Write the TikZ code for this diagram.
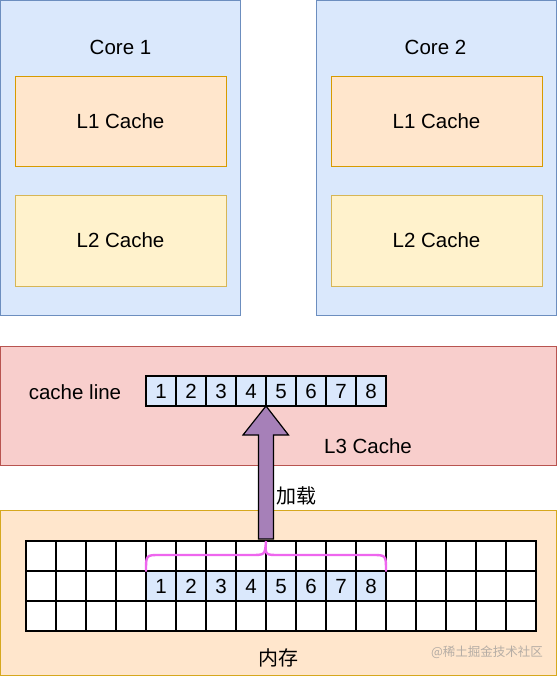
\documentclass[tikz,border=0pt]{standalone}
\usepackage{fontspec}
\usetikzlibrary{calc}
\setmainfont{Liberation Sans}
\newfontfamily\cjk{Noto Sans CJK SC}
\definecolor{coreFill}{HTML}{DAE8FC}
\definecolor{coreLine}{HTML}{6C8EBF}
\definecolor{lOneFill}{HTML}{FFE6CC}
\definecolor{lOneLine}{HTML}{D79B00}
\definecolor{lTwoFill}{HTML}{FFF2CC}
\definecolor{lTwoLine}{HTML}{D6B656}
\definecolor{lThreeFill}{HTML}{F8CECC}
\definecolor{lThreeLine}{HTML}{B85450}
\definecolor{memLine}{HTML}{D6A81E}
\definecolor{arrowFill}{HTML}{A680B8}
\definecolor{braceCol}{HTML}{EE66EE}
\definecolor{wmCol}{HTML}{B5ADA5}
\begin{document}
\begin{tikzpicture}[x=1pt,y=-1pt,
  txt/.style={font=\fontsize{20.5}{24}\selectfont, inner sep=0pt},
  corebox/.style={draw=coreLine, fill=coreFill, line width=1pt, inner sep=0pt, outer sep=0pt},
  lonebox/.style={draw=lOneLine, fill=lOneFill, line width=1pt, minimum width=211pt, minimum height=90pt, inner sep=0pt, outer sep=0pt, txt},
  ltwobox/.style={draw=lTwoLine, fill=lTwoFill, line width=1pt, minimum width=211pt, minimum height=91pt, inner sep=0pt, outer sep=0pt, txt},
  cell/.style={draw=black, line width=1.3pt, minimum width=30pt, minimum height=30pt, inner sep=0pt, outer sep=0pt, txt, text height=14.7pt, text depth=0pt},
  bluecell/.style={cell, fill=coreFill},
  bigarrow/.style={draw=black, fill=arrowFill, line width=1.2pt, line join=miter},
  bracestyle/.style={draw=braceCol, line width=2.4pt, line cap=round}
]
\useasboundingbox (0,0) rectangle (557,677);
% Cores
\node[corebox, minimum width=240pt, minimum height=314pt] (core1) at (120.5,158) {};
\node[corebox, minimum width=240pt, minimum height=314pt] (core2) at (436.5,158) {};
\node[txt] (core1t) at (120.5,47) {Core 1};
\node[txt] (core2t) at (435.5,47) {Core 2};
\node[lonebox] (l1a) at (120.5,121) {L1 Cache};
\node[ltwobox] (l2a) at (120.5,240.5) {L2 Cache};
\node[lonebox] (l1b) at (436.5,121) {L1 Cache};
\node[ltwobox] (l2b) at (436.5,240.5) {L2 Cache};
% L3
\node[draw=lThreeLine, fill=lThreeFill, line width=1pt, minimum width=556pt, minimum height=119pt, inner sep=0pt, outer sep=0pt] (l3) at (278.5,406) {};
\node[txt] (cl) at (75,392) {cache line};
\node[txt] (l3t) at (368,446) {L3 Cache};
\foreach \i in {1,...,8} {
  \node[bluecell] (c\i) at ({146+30*\i-15},391) {\i};
}
% Memory
\node[draw=memLine, fill=lOneFill, line width=1pt, minimum width=556pt, minimum height=165pt, inner sep=0pt, outer sep=0pt] (mem) at (278.5,593) {};
\foreach \r in {1,2,3} {
  \foreach \c in {1,...,17} {
    \node[cell, fill=white] (m-\r-\c) at ({26+30*\c-15},{541+30*\r-15}) {};
  }
}
\foreach \i [evaluate=\i as \c using int(\i+4)] in {1,...,8} {
  \node[bluecell] (n\i) at (m-2-\c) {\i};
}
\node[font=\cjk\fontsize{20}{24}\selectfont, inner sep=0pt] (memt) at (278,658) {内存};
\node[font=\cjk\fontsize{12.5}{15}\selectfont, text=wmCol, inner sep=0pt] (wm) at (487,652) {@稀土掘金技术社区};
% brace
\coordinate (btip) at (m-1-9.north west);
\draw[bracestyle] (n1.north west) .. controls (146,555) and (146,555) .. (160,555) -- (251,555)
  .. controls (265,555) and (265,555) .. (btip)
  .. controls (265,555) and (265,555) .. (279,555) -- (372,555)
  .. controls (386,555) and (386,555) .. (n8.north east);
% big arrow
\coordinate (atip) at (c4.south east);
\coordinate (abase) at (m-1-9.north west);
\draw[bigarrow] (atip) -- ($(atip)+(22.5,29)$) -- ($(atip)+(7.5,29)$) -- ($(abase)+(7.5,-2)$)
  -- ($(abase)+(-7.5,-2)$) -- ($(atip)+(-7.5,29)$) -- ($(atip)+(-23,29)$) -- cycle;
\node[font=\cjk\fontsize{20}{24}\selectfont, inner sep=0pt] (load) at (296,496) {加载};
\end{tikzpicture}
\end{document}
